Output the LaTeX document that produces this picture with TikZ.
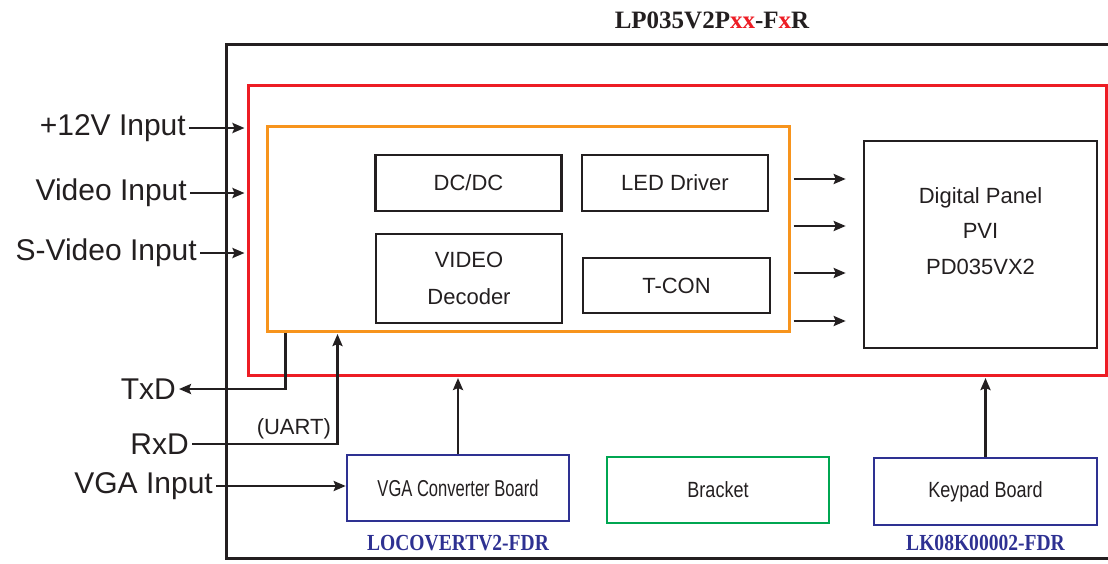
\documentclass[tikz,border=0pt]{standalone}
\usepackage{fontspec}
\setmainfont{Liberation Sans}
\newfontfamily\serifbold{Liberation Serif}
\newfontfamily\partfont[FakeStretch=0.85]{Liberation Serif}
\newfontfamily\boardfont[FakeStretch=0.82]{Liberation Sans}
\newfontfamily\vgafont[FakeStretch=0.72]{Liberation Sans}
\usetikzlibrary{arrows.meta,positioning}
\definecolor{ink}{HTML}{231F20}
\definecolor{boxred}{HTML}{ED1C24}
\definecolor{boxorange}{HTML}{F7941D}
\definecolor{boxgreen}{HTML}{00A651}
\definecolor{boxblue}{HTML}{2E3192}
\tikzset{
  sig/.style={draw=ink,line width=2.6pt,-{Stealth[length=12pt,width=10pt,inset=2pt]}},
  block/.style={draw=ink,line width=2.6pt,minimum width=186pt,minimum height=56pt,inner sep=0pt,
    align=center,text=ink,font=\fontsize{22}{37}\selectfont},
  board/.style={block,minimum width=222pt,minimum height=66pt},
  inlabel/.style={anchor=east,inner sep=3pt,text=ink,font=\fontsize{30}{36}\selectfont},
  partno/.style={text=boxblue,font=\partfont\bfseries\fontsize{23}{28}\selectfont}
}

\begin{document}
\begin{tikzpicture}[x=1pt,y=-1pt]
                   \useasboundingbox (0,0) rectangle (1108,563);
                   % module frame, right side runs off the page
                   \draw[ink,line width=3pt] (1108,44) -- (226,44) -- (226,558) -- (1108,558);
                   \node[text=ink,font=\serifbold\bfseries\fontsize{25}{30}\selectfont] (title) at (712,20)
                        {LP035V2P\textcolor{boxred}{xx}-F\textcolor{boxred}{x}R};
                   \node[draw=boxred,line width=3pt,minimum width=858pt,minimum height=290pt] (main) at (677,230) {};
                   \node[draw=boxorange,line width=3pt,minimum width=522pt,minimum height=205pt] (core) at (528,228.5) {};
                   \node[block] (dcdc) at (468.5,183) {DC/DC};
                   \node[block] (led) at (675,183) {LED Driver};
                   \node[block,minimum height=89pt] (vdec) at (469,278.5) {VIDEO\\Decoder};
                   \node[block,minimum width=187pt,minimum height=55pt] (tcon) at (676.5,285.5) {T-CON};
                   \node[block,minimum width=233pt,minimum height=207pt,font=\fontsize{22}{35.5}\selectfont,text depth=27pt]
                        (panel) at (980.5,244.5) {Digital Panel\\PVI\\PD035VX2};
                   \node[board,draw=boxblue,font=\vgafont\fontsize{23}{28}\selectfont] (vga) at (458,488) {VGA Converter Board};
                   \node[board,draw=boxgreen,font=\boardfont\fontsize{22}{28}\selectfont] (bracket) at (718,490) {Bracket};
                   \node[board,draw=boxblue,minimum width=223pt,minimum height=67pt,font=\boardfont\fontsize{22}{28}\selectfont]
                        (keypad) at (985.5,491.5) {Keypad Board};
                   \node[partno] (vgapart) [below=9pt of vga] {LOCOVERTV2-FDR};
                   \node[partno] (keypart) [below=5pt of keypad] {LK08K00002-FDR};
                   % signals on the left
                   \node[inlabel] (v12) at (189,128) {+12V Input};
                   \node[inlabel] (vid) at (190,193) {Video Input};
                   \node[inlabel] (svid) at (200,253) {S-Video Input};
                   \node[inlabel] (txd) at (179,389) {TxD};
                   \node[inlabel] (rxd) at (192,444) {RxD};
                   \node[inlabel] (vgain) at (216,486) {VGA Input};
                   \foreach \n in {v12,vid,svid}
                        \draw[sig,shorten >=2pt] (\n.east) -- (\n.east -| main.west);
                   \draw[sig] ([xshift=20pt]core.south west) |- (txd.east);
                   \draw[sig,shorten >=1.5pt] (rxd.east) -| node[pos=0.35,above,text=ink,font=\fontsize{22}{26}\selectfont] (uart) {(UART)}
                        ([xshift=72pt]core.south west);
                   \draw[sig] (vgain.east) -- (vgain.east -| vga.west);
                   \draw[sig,shorten >=1.5pt] (vga.north) -- (vga.north |- main.south);
                   \draw[sig,shorten >=1.5pt] (keypad.north) -- (keypad.north |- main.south);
                   % lines into the panel
                   \foreach \y [count=\i] in {179,226,273,321} {
                        \coordinate (out\i) at (0,\y);
                        \draw[sig,shorten <=3pt,shorten >=17pt] (core.east |- out\i) -- (panel.west |- out\i);
                   }
                \end{tikzpicture}
\end{document}
